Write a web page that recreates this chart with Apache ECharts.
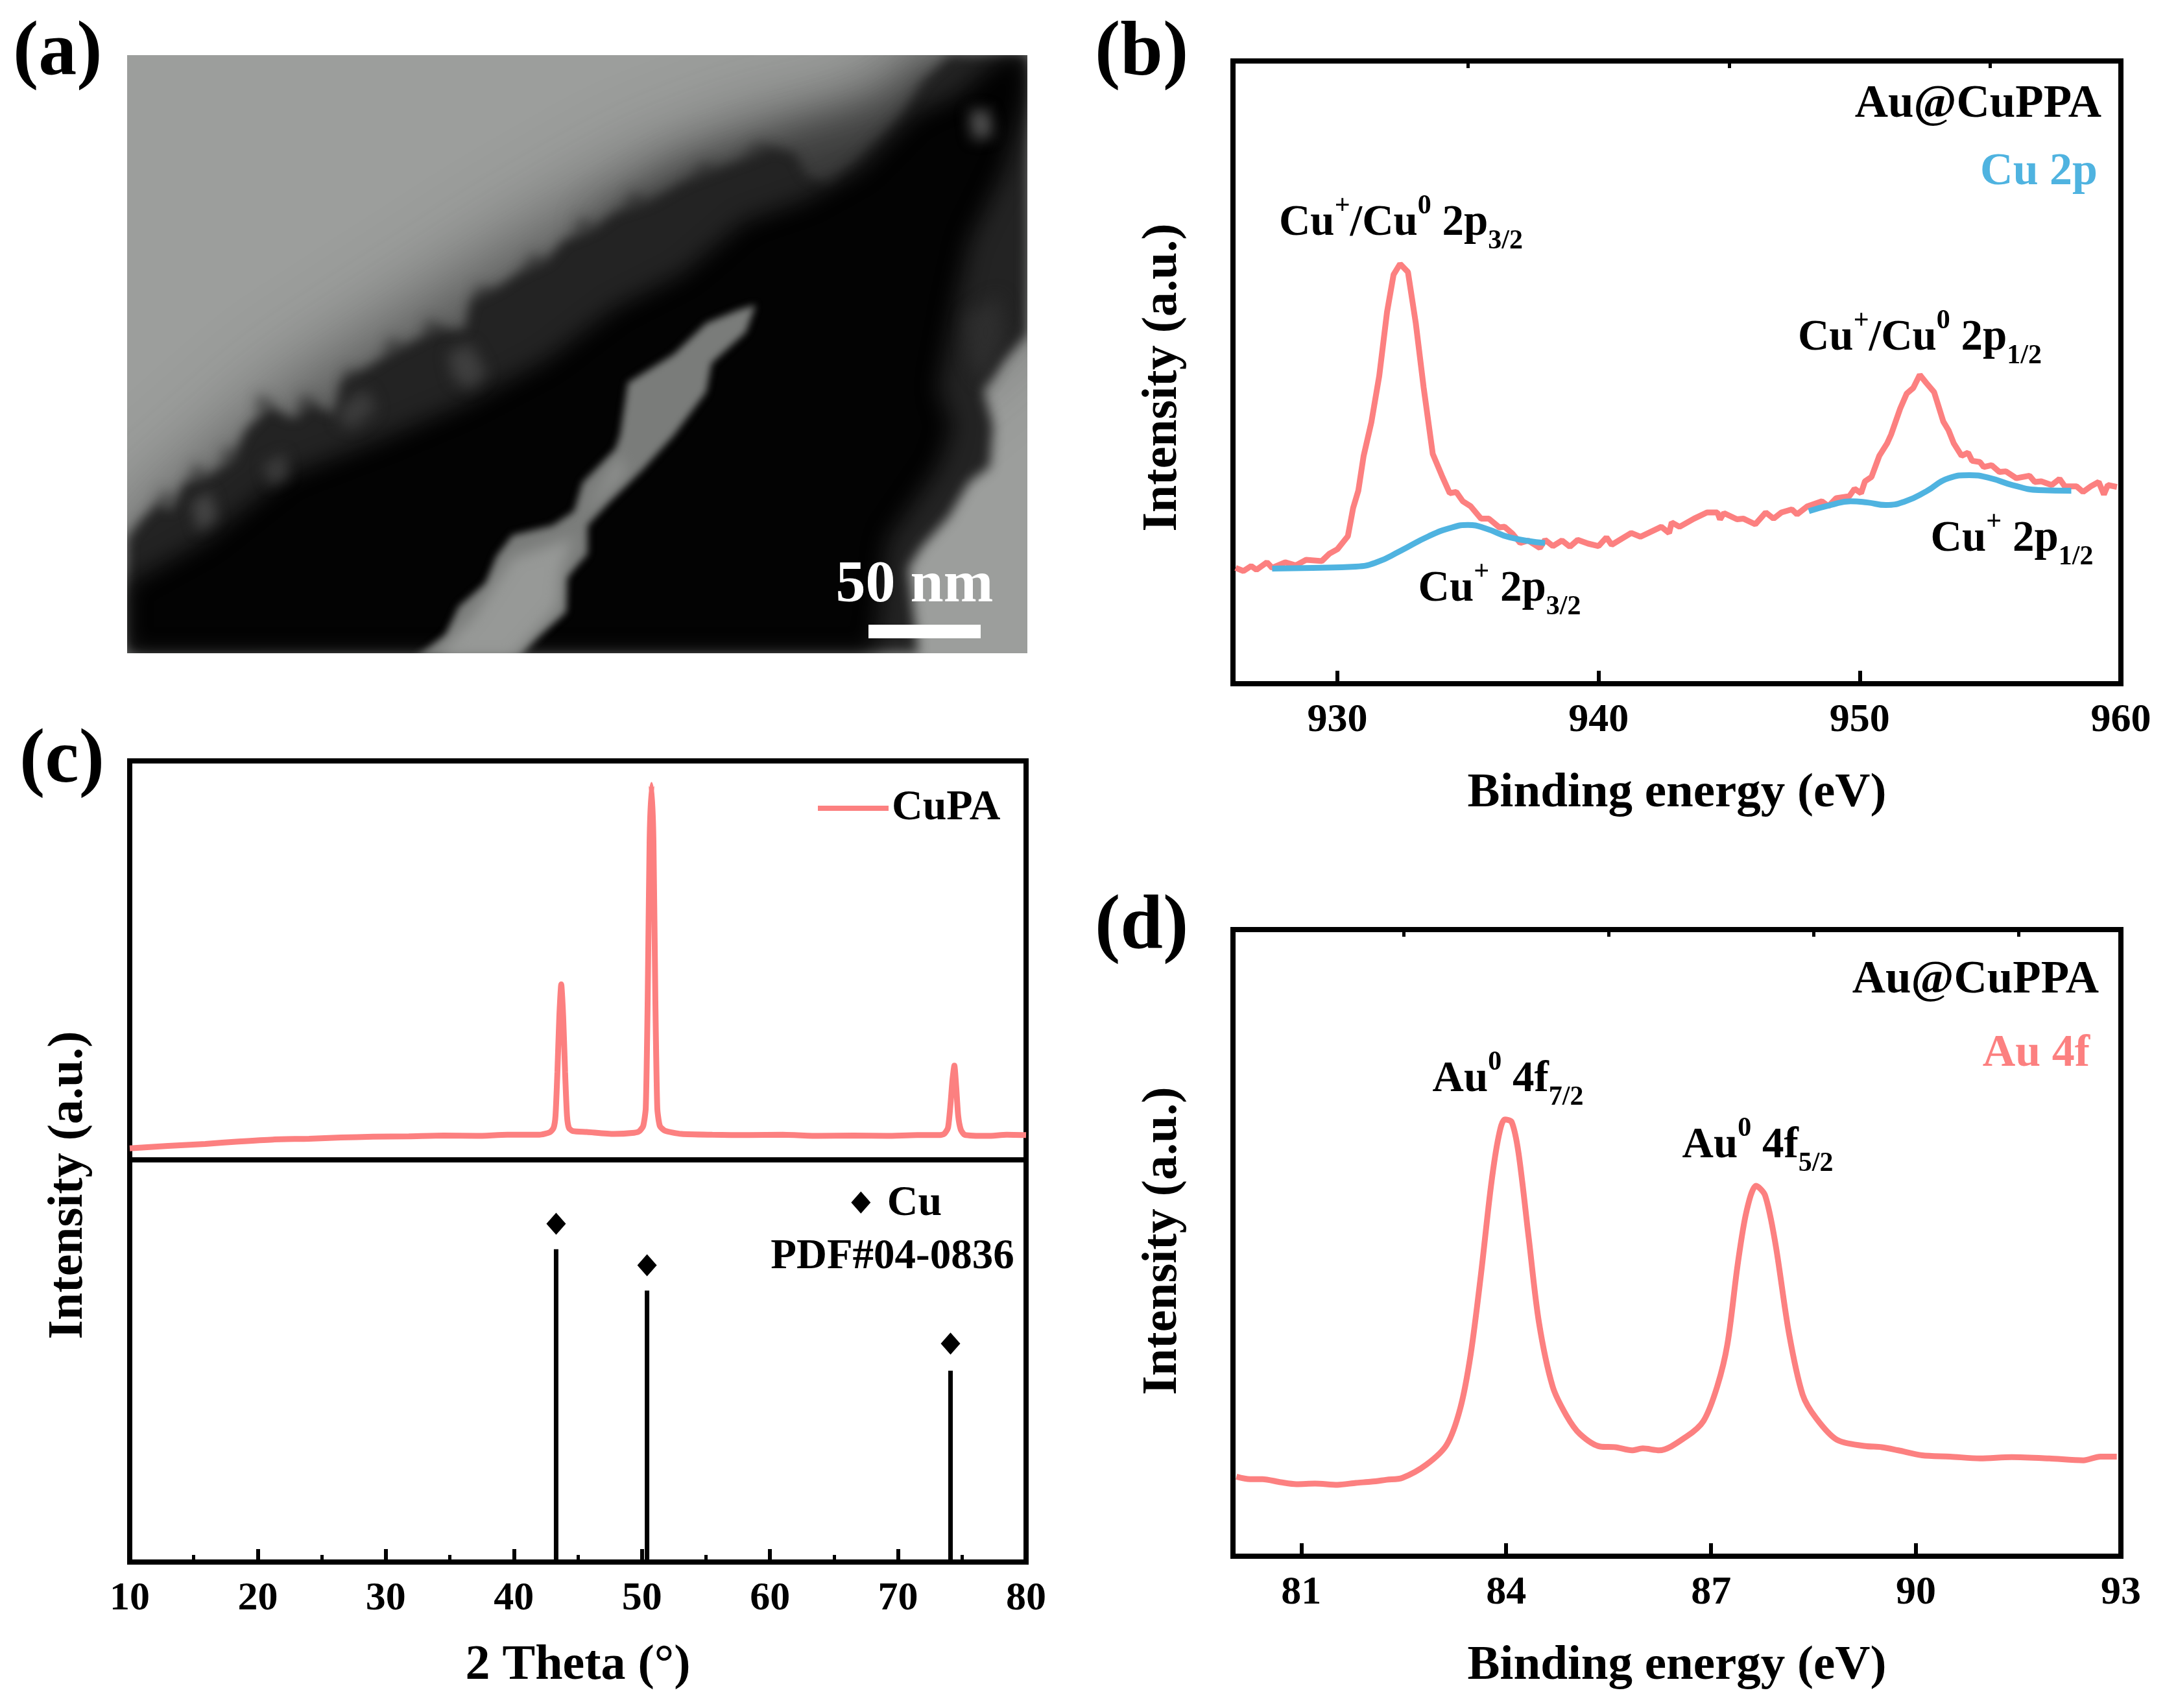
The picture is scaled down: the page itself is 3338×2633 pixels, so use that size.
<!DOCTYPE html>
<html lang="en">

<head>
    <meta charset="UTF-8">
    <title>Au@CuPPA characterisation</title>
    <script src="https://cdn.jsdelivr.net/npm/echarts@6/dist/echarts.min.js"></script>
    <style>
        html, body { margin: 0; padding: 0; background: #fff; }
        #chart { width: 3338px; height: 2633px; }
    </style>
</head>

<body>
    <div id="chart"></div>

    <script>
        // Panel (b) Cu 2p, [binding energy, intensity %]
        var cu2pCurve = [[926.1,18.6],[926.4,18.1],[926.7,18.9],[926.9,18.3],[927.3,19.5],[927.5,18.6],[928,19.5],[928.4,19],[928.8,19.9],[929.4,19.7],[929.7,20.9],[930,21.6],[930.4,23.7],[930.6,28.2],[930.8,31],[931,36.5],[931.3,42],[931.6,49.4],[931.9,59.7],[932.15,65.7],[932.4,67.4],[932.7,66.1],[933,57.9],[933.3,47.6],[933.65,36.9],[934,33.4],[934.3,30.6],[934.55,30.8],[934.8,29.3],[935.1,28.5],[935.5,26.5],[935.8,26.5],[936.2,25.1],[936.4,25.2],[936.7,24.1],[937,22.6],[937.3,23],[937.75,21.8],[937.95,23.1],[938.25,22.1],[938.6,23],[938.9,22],[939.2,23.1],[939.6,22.5],[940,22.1],[940.3,23.5],[940.5,22.3],[941.25,24.2],[941.6,23.6],[942.4,25.2],[942.7,24.2],[942.8,25.9],[943.1,25.2],[943.65,26.5],[944.15,27.5],[944.55,27.5],[944.65,26.4],[944.8,27.4],[945.3,26.4],[945.55,26.5],[946,25.6],[946.4,27.5],[946.7,26.5],[947,27.5],[947.4,28],[947.6,27.2],[948,28.5],[948.55,29.3],[948.8,28.5],[949.1,29.8],[949.6,30.1],[949.8,31.3],[950.05,30.6],[950.2,32.5],[950.45,33.2],[950.75,36.6],[951.05,38.6],[951.2,40],[951.55,44.2],[951.8,46.6],[952.05,47.5],[952.3,49.6],[952.55,48.3],[952.85,46.8],[953.2,42.1],[953.4,40.7],[953.6,38.6],[953.9,36.6],[954.15,37.1],[954.3,35.8],[954.6,35.6],[954.75,34.8],[955.05,35.1],[955.35,34],[955.6,34.1],[956,33],[956.5,33.4],[956.7,32.4],[956.95,32.5],[957.35,31.9],[957.65,32.9],[957.85,31.7],[958.3,31.7],[958.55,30.8],[958.85,31.7],[959.15,32.4],[959.35,30.4],[959.5,31.9],[959.85,31.6]];
        var cuPlus32 = [[927.5,18.5],[929.05,18.6],[930.7,18.8],[931.5,19.5],[932.4,21.3],[933.5,23.7],[934.4,25.1],[935,25.5],[935.7,24.9],[936.6,23.5],[937.95,22.6]];
        var cuPlus12 = [[948.05,27.7],[948.9,28.7],[949.65,29.3],[950.3,29.1],[951,28.7],[951.75,29.3],[952.55,30.9],[953.4,33],[954.2,33.5],[955,33],[955.85,31.9],[956.85,31.1],[958.1,31]];

        // Panel (c) XRD, [2 theta, intensity %]
        var cupaCurve = [[10,2.9],[13,3.5],[15.9,4.0],[18.5,4.6],[21.2,5.1],[24,5.3],[26.5,5.6],[29,5.8],[31.8,5.9],[34.5,6.1],[37.1,6.0],[39.5,6.3],[42,6.3],[42.8,6.9],[43.1,8],[43.25,11],[43.4,22],[43.55,36],[43.7,44],[43.85,36],[44,22],[44.15,11],[44.3,8],[44.6,7.2],[45.7,7],[47.8,6.5],[49.4,6.8],[49.8,7.2],[50.1,8.5],[50.3,13],[50.45,40],[50.6,80],[50.75,94],[50.9,80],[51.05,40],[51.2,13],[51.4,8.5],[51.8,7.3],[53.1,6.5],[55.5,6.3],[58.4,6.2],[61,6.3],[63.8,6],[66.5,6.1],[69.1,6],[71.5,6.2],[73.2,6.2],[73.6,6.5],[73.9,8],[74.1,14],[74.25,20],[74.4,23.6],[74.55,18],[74.7,11],[74.9,7.6],[75.2,6.3],[77,6],[78.5,6.3],[80,6.2]];
        var pdfSticks = [[43.3,77.8],[50.4,67.5],[74.1,47.6]];
        var pdfMarks = [[43.3,84.1],[50.4,73.8],[74.1,54.3]];
        var cuKeyMark = [[67.1,89.4]];

        // Panel (d) Au 4f, [binding energy, intensity %]
        var au4fCurve = [[80.05,12.7],[80.25,12.3],[80.43,12.3],[80.7,11.8],[80.93,11.5],[81.2,11.6],[81.53,11.4],[81.8,11.7],[82.03,11.9],[82.25,12.2],[82.48,12.5],[82.83,14.6],[83.13,17.8],[83.33,23.7],[83.48,32.2],[83.63,44.9],[83.78,59.3],[83.89,67.0],[83.98,69.7],[84.08,69.3],[84.18,64.4],[84.33,50.8],[84.48,37.3],[84.68,27.1],[84.88,22.5],[85.08,19.5],[85.38,17.5],[85.6,17.4],[85.84,16.9],[86.0,17.2],[86.24,16.9],[86.64,19.1],[86.89,21.6],[87.09,27.1],[87.24,33.9],[87.39,46.6],[87.52,55.1],[87.66,59.1],[87.79,57.6],[87.94,50.0],[88.14,35.6],[88.34,25.8],[88.54,22.0],[88.84,18.6],[89.24,17.6],[89.5,17.4],[89.74,16.9],[90.09,16.1],[90.5,15.9],[90.94,15.6],[91.4,15.8],[91.95,15.6],[92.45,15.3],[92.7,15.9],[92.94,15.9]];

        // Tick values
        var cu2pTicks = [930, 940, 950, 960];
        var cu2pMinorTicks = [935, 945, 955];
        var au4fTicks = [81, 84, 87, 90, 93];
        var au4fMinorTicks = [82.5, 85.5, 88.5, 91.5];

        // Panel (a) micrograph outlines, drawn on a hidden axis pair
        var micrographBack = [[196,85],[1584,85],[1584,1007],[196,1007]];
        var micrographHaze = [[196,830],[453,604],[800,381],[1000,267],[1179,200],[1358,167],[1410,85],[1584,85],[1584,465],[1263,733],[196,1007]];
        var micrographHazeTop = [[900,350],[1050,250],[1230,190],[1370,150],[1430,85],[1500,85],[1400,300],[1100,420]];
        var micrographEdge = [[196,830],[216,803],[244,775],[263,786],[284,744],[321,733],[358,708],[379,662],[416,626],[453,646],[479,622],[516,639],[526,589],[568,565],[605,542],[632,529],[674,507],[716,508],[726,462],[768,442],[800,420],[842,401],[868,371],[916,351],[947,328],[1000,311],[1053,281],[1105,261],[1158,241],[1189,227],[1226,236],[1242,268],[1279,288],[1316,254],[1358,214],[1389,181],[1421,127],[1463,85],[1584,85],[1584,515],[1547,555],[1516,602],[1531,656],[1526,719],[1494,743],[1463,796],[1421,843],[1400,876],[1416,1007],[196,1007]];
        var micrographCore = [[196,1007],[196,900],[316,833],[442,733],[590,676],[716,622],[842,555],[947,475],[1053,421],[1147,341],[1242,308],[1326,261],[1410,176],[1473,148],[1547,85],[1584,85],[1584,150],[1547,265],[1494,372],[1473,466],[1447,600],[1468,656],[1447,719],[1368,833],[1347,1007]];
        var micrographSlit = [[1138,478],[1089,498],[1039,546],[968,590],[956,671],[948,693],[898,744],[885,788],[852,810],[790,825],[765,858],[749,899],[707,935],[687,979],[641,1013],[798,1013],[827,983],[873,943],[873,891],[906,854],[906,810],[939,774],[989,726],[1039,671],[1089,604],[1097,560],[1150,512],[1165,470]];
        var micrographSlitCore = [[960,700],[915,770],[880,830],[790,860],[730,950],[670,1013],[790,1013],[860,935],[865,880],[895,800],[960,730]];
        var patchA = [[690,545],[725,530],[750,575],[725,600],[700,585]];
        var patchB = [[530,620],[565,600],[580,630],[545,660],[520,650]];
        var patchC = [[295,775],[325,758],[335,800],[305,820]];
        var patchD = [[405,715],[440,698],[445,735],[415,750]];
        var patchE = [[1495,170],[1525,170],[1530,210],[1500,215]];
        var patchF = [[1490,490],[1540,455],[1550,520],[1515,590],[1495,555]];
        var tufts = [
            [[240,790],[250,755],[275,770]], [[290,745],[300,712],[325,735]], [[340,720],[345,690],[375,700]],
            [[395,640],[398,605],[425,625]], [[455,640],[468,605],[490,625]], [[530,600],[532,568],[565,580]],
            [[590,550],[600,520],[630,535]], [[650,520],[660,490],[690,510]], [[730,470],[735,440],[770,450]],
            [[800,425],[820,390],[850,405]], [[880,365],[895,335],[925,350]], [[960,325],[975,295],[1005,315]],
            [[1060,280],[1085,250],[1110,265]], [[1140,245],[1170,218],[1195,235]]
        ];
        var scaleBar = [[1339,963],[1512,963],[1512,984],[1339,984]];

        var RED = '#fc8080';
        var BLUE = '#4fb3e0';
        var BLACK = '#000';
        var SERIF = '"Liberation Serif", "Times New Roman", serif';

        // soft: drawn far off to the side so only its blurred shadow lands in the panel
        var SOFT_SHIFT = 5000;
        var micrographShapes = [
            { points: micrographBack, fill: '#9c9e9c' },
            { points: micrographHaze, fill: 'rgba(45,45,45,0.85)', soft: 130 },
            { points: micrographHazeTop, fill: 'rgba(35,35,35,0.7)', soft: 60 }
        ];
        tufts.forEach(function (t) { micrographShapes.push({ points: t, fill: 'rgba(40,40,40,0.8)', soft: 20 }); });
        micrographShapes = micrographShapes.concat([
            { points: micrographEdge, fill: '#232323', soft: 18 },
            { points: micrographCore, fill: '#030303', soft: 34 },
            { points: patchA, fill: '#3f3f3f', soft: 22 },
            { points: patchB, fill: '#3c3c3c', soft: 22 },
            { points: patchC, fill: '#444', soft: 20 },
            { points: patchD, fill: '#3a3a3a', soft: 20 },
            { points: patchE, fill: '#545454', soft: 22 },
            { points: patchF, fill: '#2e2e2e', soft: 26 },
            { points: micrographSlit, fill: '#7a7c7a', soft: 12 },
            { points: micrographSlitCore, fill: '#979997', soft: 22 },
            { points: scaleBar, fill: '#fff' }
        ]);

        function renderMicrograph(params, api) {
            var item = micrographShapes[api.value(0)];
            var shift = item.soft ? SOFT_SHIFT : 0;
            return {
                type: 'polygon',
                shape: {
                    points: item.points.map(function (p) {
                        var c = api.coord(p);
                        return [c[0] + shift, c[1]];
                    })
                },
                style: item.soft
                    ? { fill: item.fill, shadowColor: item.fill, shadowBlur: item.soft, shadowOffsetX: -shift }
                    : { fill: item.fill }
            };
        }

        function plotAxis(gridIndex, min, max, majorTicks, name) {
            return {
                type: 'value', gridIndex: gridIndex, min: min, max: max,
                name: name, nameLocation: 'middle', nameGap: 132,
                nameTextStyle: { fontFamily: SERIF, fontWeight: 'bold', fontSize: 75, color: BLACK },
                axisLine: { show: false },
                axisTick: { show: true, inside: true, length: 20, customValues: majorTicks, lineStyle: { color: BLACK, width: 6 } },
                axisLabel: { show: true, customValues: majorTicks, margin: 26, fontFamily: SERIF, fontWeight: 'bold', fontSize: 62, color: BLACK },
                splitLine: { show: false }
            };
        }

        // second axis on the same grid, only carries the short ticks
        function minorAxis(gridIndex, min, max, ticks) {
            return {
                type: 'value', gridIndex: gridIndex, min: min, max: max,
                axisLine: { show: false },
                axisTick: { show: true, inside: true, length: 11, customValues: ticks, lineStyle: { color: BLACK, width: 5 } },
                axisLabel: { show: false },
                splitLine: { show: false }
            };
        }

        function intensityAxis(gridIndex) {
            return {
                type: 'value', gridIndex: gridIndex, min: 0, max: 100,
                axisLine: { show: false }, axisTick: { show: false }, axisLabel: { show: false }, splitLine: { show: false }
            };
        }

        function curve(name, data, color, xAxisIndex, yAxisIndex, smooth) {
            return {
                name: name, type: 'line', data: data, xAxisIndex: xAxisIndex, yAxisIndex: yAxisIndex,
                symbol: 'none', smooth: smooth || false, clip: true,
                lineStyle: { color: color, width: 9 }, itemStyle: { color: color }
            };
        }

        // small text blocks with super and subscripts
        var richStyles = {
            t: { fontFamily: SERIF, fontWeight: 'bold', fontSize: 67, lineHeight: 96, verticalAlign: 'middle', fill: BLACK, color: BLACK },
            up: { fontFamily: SERIF, fontWeight: 'bold', fontSize: 42, lineHeight: 62, verticalAlign: 'top', fill: BLACK, color: BLACK },
            dn: { fontFamily: SERIF, fontWeight: 'bold', fontSize: 42, lineHeight: 54, verticalAlign: 'bottom', fill: BLACK, color: BLACK }
        };

        function text(str, x, y, align, size, color) {
            return {
                type: 'text', x: x, y: y, z: 50,
                style: { text: str, align: align, verticalAlign: 'middle', fontFamily: SERIF, fontWeight: 'bold', fontSize: size, fill: color || BLACK }
            };
        }

        function richText(str, x, y) {
            return {
                type: 'text', x: x, y: y, z: 50,
                style: { text: str, align: 'center', verticalAlign: 'middle', rich: richStyles }
            };
        }

        function intensityLabel(x, y) {
            return {
                type: 'text', z: 50, x: x, y: y, rotation: Math.PI / 2,
                style: { text: 'Intensity (a.u.)', align: 'center', verticalAlign: 'middle', fontFamily: SERIF, fontWeight: 'bold', fontSize: 76, fill: BLACK }
            };
        }

        var chart = echarts.init(document.getElementById('chart'));

        chart.setOption({
            backgroundColor: '#fff',
            animation: false,
            legend: {
                show: true, data: ['CuPA'], left: 1256, top: 1208, icon: 'rect', itemWidth: 109, itemHeight: 8, itemGap: 20,
                textStyle: { fontFamily: SERIF, fontWeight: 'bold', fontSize: 66, color: BLACK }
            },
            grid: [
                { left: 196, top: 85, width: 1388, height: 922, show: false },
                { left: 1901, top: 94, width: 1369, height: 960, show: true, borderColor: BLACK, borderWidth: 8 },
                { left: 200, top: 1173, width: 1382, height: 615, show: true, borderColor: BLACK, borderWidth: 8 },
                { left: 200, top: 1788, width: 1382, height: 620, show: true, borderColor: BLACK, borderWidth: 8 },
                { left: 1901, top: 1433, width: 1369, height: 966, show: true, borderColor: BLACK, borderWidth: 8 }
            ],
            xAxis: [
                { type: 'value', gridIndex: 0, min: 196, max: 1584, show: false },
                plotAxis(1, 926, 960, cu2pTicks, 'Binding energy (eV)'),
                minorAxis(1, 926, 960, cu2pMinorTicks),
                { type: 'value', gridIndex: 2, min: 10, max: 80, axisLine: { show: false }, axisTick: { show: false }, axisLabel: { show: false }, splitLine: { show: false } },
                {
                    type: 'value', gridIndex: 3, min: 10, max: 80, interval: 10,
                    name: '2 Theta (°)', nameLocation: 'middle', nameGap: 122,
                    nameTextStyle: { fontFamily: SERIF, fontWeight: 'bold', fontSize: 76, color: BLACK },
                    axisLine: { show: false },
                    axisTick: { show: true, inside: true, length: 20, lineStyle: { color: BLACK, width: 6 } },
                    minorTick: { show: true, splitNumber: 2, length: 11, lineStyle: { color: BLACK, width: 5 } },
                    axisLabel: { margin: 26, fontFamily: SERIF, fontWeight: 'bold', fontSize: 62, color: BLACK },
                    splitLine: { show: false }
                },
                plotAxis(4, 80, 93, au4fTicks, 'Binding energy (eV)'),
                minorAxis(4, 80, 93, au4fMinorTicks)
            ],
            yAxis: [
                { type: 'value', gridIndex: 0, min: 85, max: 1007, inverse: true, show: false },
                intensityAxis(1),
                intensityAxis(2),
                intensityAxis(3),
                intensityAxis(4)
            ],
            series: [
                {
                    type: 'custom', xAxisIndex: 0, yAxisIndex: 0, clip: true, silent: true,
                    renderItem: renderMicrograph,
                    data: micrographShapes.map(function (s, i) { return [i]; }),
                    encode: { x: -1, y: -1 }
                },
                curve('Cu 2p', cu2pCurve, RED, 1, 1),
                curve('Cu+ 2p3/2', cuPlus32, BLUE, 1, 1, 0.5),
                curve('Cu+ 2p1/2', cuPlus12, BLUE, 1, 1, 0.5),
                curve('CuPA', cupaCurve, RED, 3, 2, 0.2),
                { name: 'PDF sticks', type: 'bar', xAxisIndex: 4, yAxisIndex: 3, data: pdfSticks, barWidth: 7, itemStyle: { color: BLACK } },
                { name: 'PDF marks', type: 'scatter', xAxisIndex: 4, yAxisIndex: 3, data: pdfMarks, symbol: 'diamond', symbolSize: [30, 34], itemStyle: { color: BLACK, opacity: 1 } },
                { name: 'Cu key', type: 'scatter', xAxisIndex: 4, yAxisIndex: 3, data: cuKeyMark, symbol: 'diamond', symbolSize: [30, 34], itemStyle: { color: BLACK, opacity: 1 } },
                curve('Au 4f', au4fCurve, RED, 5, 4, 0.3)
            ],
            graphic: [
                text('(a)', 20, 84, 'left', 118),
                text('(b)', 1688, 84, 'left', 118),
                text('(c)', 30, 1175, 'left', 118),
                text('(d)', 1688, 1431, 'left', 118),
                text('50 nm', 1410, 903, 'center', 92, '#fff'),
                text('Au@CuPPA', 3240, 162, 'right', 71),
                text('Cu 2p', 3234, 266, 'right', 70, BLUE),
                text('Au@CuPPA', 3236, 1512, 'right', 71),
                text('Au 4f', 3222, 1625, 'right', 70, RED),
                text('Cu', 1410, 1856, 'center', 66),
                text('PDF#04-0836', 1376, 1938, 'center', 65),
                intensityLabel(1793, 582),
                intensityLabel(106, 1827),
                intensityLabel(1793, 1913),
                richText('{t|Cu}{up|+}{t|/Cu}{up|0}{t| 2p}{dn|3/2}', 2160, 345),
                richText('{t|Cu}{up|+}{t|/Cu}{up|0}{t| 2p}{dn|1/2}', 2960, 522),
                richText('{t|Cu}{up|+}{t| 2p}{dn|3/2}', 2312, 909),
                richText('{t|Cu}{up|+}{t| 2p}{dn|1/2}', 3102, 832),
                richText('{t|Au}{up|0}{t| 4f}{dn|7/2}', 2325, 1665),
                richText('{t|Au}{up|0}{t| 4f}{dn|5/2}', 2710, 1767)
            ]
        });
    </script>
</body>

</html>
